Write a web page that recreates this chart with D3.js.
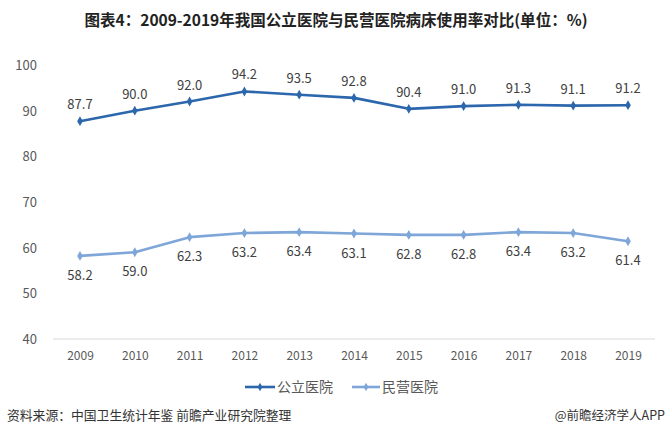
<!DOCTYPE html>
<html><head><meta charset="utf-8">
<script src="https://cdn.jsdelivr.net/npm/d3@7"></script>
<style>body{margin:0;background:#fff}svg{display:block}</style>
</head><body>
<script>
const years = ["2009","2010","2011","2012","2013","2014","2015","2016","2017","2018","2019"];
const publicRate = [87.7,90.0,92.0,94.2,93.5,92.8,90.4,91.0,91.3,91.1,91.2];
const privateRate = [58.2,59.0,62.3,63.2,63.4,63.1,62.8,62.8,63.4,63.2,61.4];
const yTicks = [40,50,60,70,80,90,100];
const seriesNames = ["公立医院","民营医院"];

const W=670,H=436;
const font = "'Noto Sans CJK SC','Noto Sans',sans-serif";
const svg = d3.select("body").append("svg").attr("width",W).attr("height",H);

svg.append("text").attr("x",336).attr("y",26).attr("text-anchor","middle")
  .attr("font-family",font).attr("font-weight","bold").attr("font-size",15.5).attr("fill","#222")
  .attr("textLength",503).attr("lengthAdjust","spacingAndGlyphs")
  .text("图表4：2009-2019年我国公立医院与民营医院病床使用率对比(单位：%)");

const x = d3.scalePoint().domain(years).range([80,628]);
const y = d3.scaleLinear().domain([40,100]).range([339,65]);

svg.append("line").attr("x1",53).attr("x2",655).attr("y1",y(40)).attr("y2",y(40))
  .attr("stroke","#d9d9d9").attr("stroke-width",1);

const yAxis = d3.axisLeft(y).tickValues(yTicks).tickSize(0).tickPadding(0);
const ga = svg.append("g").attr("transform","translate(37,0)").call(yAxis);
ga.select(".domain").remove();
ga.selectAll("text").attr("font-family",font).attr("font-size",13).attr("fill","#595959").attr("dy","0.35em");

const xAxis = d3.axisBottom(x).tickSize(0).tickPadding(0);
const gx = svg.append("g").attr("transform","translate(0,351)").call(xAxis);
gx.select(".domain").remove();
gx.selectAll("text").attr("font-family",font).attr("font-size",12).attr("fill","#595959").attr("dy","0.71em");

const colors = ["#2c66ac","#7ea6d8"];
const series = [publicRate, privateRate];
const line = d3.line().x((d,i)=>x(years[i])).y(d=>y(d));
const diamond = d3.symbol().type(d3.symbolDiamond).size(28);

series.forEach((s,k)=>{
  svg.append("path").datum(s).attr("d",line).attr("fill","none")
    .attr("stroke",colors[k]).attr("stroke-width",2.6).attr("stroke-linejoin","round");
  svg.selectAll(null).data(s).enter().append("path")
    .attr("d",diamond).attr("transform",(d,i)=>`translate(${x(years[i])},${y(d)})`)
    .attr("fill",colors[k]);
  svg.selectAll(null).data(s).enter().append("text")
    .attr("x",(d,i)=>x(years[i])).attr("y",d=>k===0? y(d)-12 : y(d)+24)
    .attr("text-anchor","middle").attr("font-family",font).attr("font-size",13)
    .attr("fill","#404040").text(d=>d.toFixed(1));
});

// legend
const legendPos = [{x0:245,x1:275},{x0:352,x1:380}];
seriesNames.forEach((n,k)=>{
  const ly=387;
  const {x0,x1} = legendPos[k];
  svg.append("line").attr("x1",x0).attr("x2",x1).attr("y1",ly).attr("y2",ly)
    .attr("stroke",colors[k]).attr("stroke-width",2.6);
  svg.append("path").attr("d",d3.symbol().type(d3.symbolDiamond).size(20)).attr("transform",`translate(${(x0+x1)/2},${ly})`).attr("fill",colors[k]);
  svg.append("text").attr("x",x1+2).attr("y",ly).attr("dy","0.35em")
    .attr("font-family",font).attr("font-size",14).attr("fill","#595959").text(n);
});

svg.append("text").attr("x",7).attr("y",420).attr("font-family",font).attr("font-size",12.8)
  .attr("fill","#333").text("资料来源：中国卫生统计年鉴 前瞻产业研究院整理");
svg.append("text").attr("x",665).attr("y",420).attr("text-anchor","end").attr("font-family",font).attr("font-size",12.5)
  .attr("fill","#333").text("@前瞻经济学人APP");
</script>
</body></html>
